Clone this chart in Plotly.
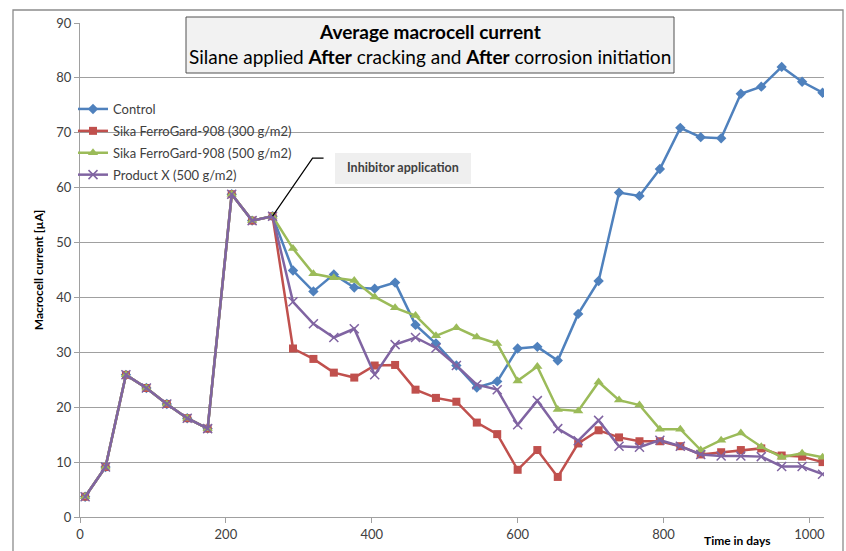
import plotly.graph_objects as go

days = [7, 35, 63, 91, 119, 147, 175, 208, 236, 264,
        292, 320, 348, 376, 404, 432, 460, 488, 516, 544, 572, 600, 627, 655,
        683, 711, 739, 767, 795, 823, 851, 879, 906, 934, 962, 990, 1018]

early = [3.7, 9.1, 25.9, 23.5, 20.6, 18.0, 16.1, 58.8, 54.0, 54.8]

control = early + [44.9, 41.1, 44.2, 41.8, 41.6, 42.7, 35.0, 31.6, 27.6, 23.6, 24.7, 30.7, 31.0, 28.5,
                   37.0, 43.0, 59.1, 58.5, 63.4, 70.9, 69.2, 69.0, 77.1, 78.4, 82.0, 79.3, 77.3]
sika300 = early + [30.7, 28.8, 26.3, 25.4, 27.6, 27.7, 23.2, 21.7, 21.0, 17.2, 15.1, 8.6, 12.2, 7.3,
                   13.4, 15.8, 14.5, 13.8, 13.8, 12.9, 11.4, 11.8, 12.2, 12.5, 11.2, 11.0, 10.0]
sika500 = early + [48.9, 44.3, 43.6, 43.1, 40.1, 38.1, 36.7, 33.0, 34.5, 32.8, 31.6, 24.8, 27.4, 19.6,
                   19.3, 24.6, 21.3, 20.4, 16.0, 16.0, 12.2, 14.0, 15.3, 12.8, 10.9, 11.6, 10.9]
productx = early + [39.2, 35.2, 32.7, 34.3, 25.9, 31.4, 32.7, 30.8, 27.6, 24.1, 23.2, 16.8, 21.2, 16.1,
                    13.9, 17.6, 12.9, 12.7, 14.0, 12.9, 11.4, 11.1, 11.1, 11.0, 9.2, 9.2, 7.8]

series_names = ["Control", "Sika FerroGard-908 (300 g/m2)",
                "Sika FerroGard-908 (500 g/m2)", "Product X (500 g/m2)"]
x_ticks = [0, 200, 400, 600, 800, 1000]
y_ticks = [0, 10, 20, 30, 40, 50, 60, 70, 80, 90]

FONT = "Lato"
TXT = "#404040"
GRID = "#a0a0a0"

styles = [
    dict(color="#4F81BD", symbol="diamond", size=8),
    dict(color="#C0504D", symbol="square", size=8),
    dict(color="#9BBB59", symbol="triangle-up", size=9),
    dict(color="#8064A2", symbol="x-thin", size=9),
]
data = [control, sika300, sika500, productx]

fig = go.Figure()
for i, (name, vals, st) in enumerate(zip(series_names, data, styles)):
    marker = dict(color=st["color"], symbol=st["symbol"], size=st["size"])
    if st["symbol"] == "x-thin":
        marker["line"] = dict(color=st["color"], width=1.5)
    fig.add_trace(go.Scatter(
        x=days, y=vals, name=name, mode="lines+markers",
        line=dict(color=st["color"], width=2.5),
        marker=marker, legendgroup=f"g{i}",
    ))

# plot-area pixel geometry helpers (for decorations only)
L, R, T, B = 80, 22, 23, 34
W, H = 846, 551
PW, PH = W - L - R, H - T - B

def px(xp):
    return (xp - L) / PW

def py(yp):
    return (H - B - yp) / PH

shapes = [
    # chart area border (left, top, right edges)
    dict(type="path", xref="paper", yref="paper",
         path=f"M{px(13)},{py(551)} L{px(13)},{py(10)} L{px(843)},{py(10)} L{px(843)},{py(551)}",
         line=dict(color="#8c8c8c", width=1.3), layer="above"),
    # title box
    dict(type="rect", xref="paper", yref="paper", x0=px(186), x1=px(674), y0=py(73), y1=py(17),
         line=dict(color="#505050", width=1), fillcolor="#f2f2f2", layer="above"),
    # inhibitor box
    dict(type="rect", xref="paper", yref="paper", x0=px(335), x1=px(471), y0=py(184), y1=py(153),
         line=dict(width=0), fillcolor="#efefef", layer="above"),
    # leader line from the inhibitor application point
    dict(type="path", xref="x", yref="y", xsizemode="pixel", ysizemode="pixel",
         xanchor=days[9], yanchor=control[9], path="M0,0 L40,58 L51,58",
         line=dict(color="#000000", width=1.2), layer="above"),
]

annotations = [
    dict(xref="paper", yref="paper", x=px(430), y=py(31), text="<b>Average macrocell current</b>",
         showarrow=False, font=dict(family=FONT, size=19, color="#000000"), xanchor="center", yanchor="middle"),
    dict(xref="paper", yref="paper", x=px(430), y=py(57),
         text="Silane applied <b>After</b> cracking and <b>After</b> corrosion initiation",
         showarrow=False, font=dict(family=FONT, size=19, color="#000000"), xanchor="center", yanchor="middle"),
    dict(xref="paper", yref="paper", x=px(403), y=py(167), text="<b>Inhibitor application</b>",
         showarrow=False, font=dict(family=FONT, size=12.5, color=TXT), xanchor="center", yanchor="middle"),
    dict(xref="paper", yref="paper", x=px(737), y=py(540), text="<b>Time in days</b>",
         showarrow=False, font=dict(family=FONT, size=12, color="#000000"), xanchor="center", yanchor="middle"),
]

fig.update_layout(
    width=W, height=H,
    margin=dict(l=L, r=R, t=T, b=B, autoexpand=False),
    paper_bgcolor="white", plot_bgcolor="white",
    font=dict(family=FONT, size=12, color=TXT),
    shapes=shapes, annotations=annotations,
    showlegend=True,
    legend=dict(x=px(73), y=py(94), xanchor="left", yanchor="top",
                bgcolor="rgba(255,255,255,0)", font=dict(family=FONT, size=13, color=TXT),
                tracegroupgap=2, itemwidth=30),
    xaxis=dict(range=[0, 1020], tickvals=x_ticks, showgrid=False, zeroline=False, automargin=False,
               showline=True, linecolor=GRID, linewidth=1, ticks="outside", ticklen=5,
               tickcolor=GRID, tickfont=dict(family=FONT, size=13, color=TXT)),
    yaxis=dict(range=[0, 90], tickvals=y_ticks, showgrid=True, gridcolor=GRID, gridwidth=1,
               zeroline=False, showline=True, linecolor=GRID, linewidth=1, ticks="outside",
               ticklen=5, tickcolor=GRID, tickfont=dict(family=FONT, size=13, color=TXT),
               automargin=False,
               title=dict(text="<b>Macrocell current [µA]</b>", font=dict(family=FONT, size=12, color="#000000"),
                          standoff=10)),
)

fig.write_html("out.html", config={"displayModeBar": False},
               post_script="document.body.style.margin='0';document.body.style.overflow='hidden';")
